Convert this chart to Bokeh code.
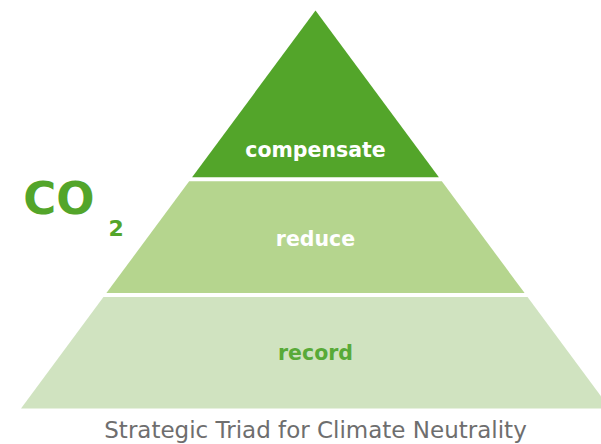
from bokeh.plotting import figure
from bokeh.models import Range1d, ColumnDataSource
from bokeh.core.properties import value
from bokeh.embed import file_html
from bokeh.resources import INLINE

# ---- data ----
tiers = ["record", "reduce", "compensate"]          # bottom -> top
tier_heights = [0.285, 0.291, 0.424]                # share of pyramid height
tier_colors = ["#d0e3c0", "#b5d58e", "#53a52a"]
label_colors = ["#58aa38", "#ffffff", "#ffffff"]
label_pos = [0.43, 0.42, 0.134]                     # baseline within tier (fraction from tier bottom)
molecule = "CO"
subscript = "2"
caption = "Strategic Triad for Climate Neutrality"

# ---- layout (pyramid units: base half-width 1, height 1; 398 px per unit) ----
PX = 1 / 398.0
GAP = 0.010
levels = [0.0]
for h in tier_heights:
    levels.append(levels[-1] + h)

def lift(size_px):
    # compensate renderer's baseline placement
    return 0.34 * size_px * PX

LABEL_SIZE = 20.5
xs, ys, lx, ly = [], [], [], []
n = len(tiers)
for i in range(n):
    b = levels[i] + (GAP / 2 if i > 0 else 0)
    t = levels[i + 1] - (GAP / 2 if i < n - 1 else 0)
    hb, ht = 1 - b, 1 - t
    xs.append([-hb, hb, ht, -ht])
    ys.append([b, b, t, t])
    lx.append(0.0)
    ly.append(levels[i] + label_pos[i] * tier_heights[i] + lift(LABEL_SIZE))

p = figure(width=601, height=444, output_backend="svg", toolbar_location=None,
           x_range=Range1d(-1.0696, 0.9711), y_range=Range1d(-0.0905, 1.0251),
           min_border=0)
p.axis.visible = False
p.xgrid.visible = False
p.ygrid.visible = False
p.outline_line_color = None
p.background_fill_color = "white"
p.border_fill_color = "white"

src = ColumnDataSource(dict(xs=xs, ys=ys, color=tier_colors, lx=lx, ly=ly,
                            label=tiers, lcolor=label_colors))
p.patches("xs", "ys", fill_color="color", line_color=None, source=src)
p.text("lx", "ly", text="label", text_color="lcolor", source=src,
       text_font=value("DejaVu Sans"), text_font_style="bold",
       text_font_size=f"{LABEL_SIZE}px", text_align="center", text_baseline="alphabetic")

# CO2 mark
p.text(x=[-0.9925], y=[0.49 + lift(45)], text=[molecule], text_color="#53a52a",
       text_font=value("DejaVu Sans"), text_font_style="bold",
       text_font_size="45px", text_align="left", text_baseline="alphabetic")
p.text(x=[-0.703], y=[0.4296 + 9.5 * PX], text=[subscript], text_color="#53a52a",
       text_font=value("DejaVu Sans"), text_font_style="bold",
       text_font_size="22px", text_align="left", text_baseline="alphabetic")

# caption
p.text(x=[0.0], y=[-0.0729 + lift(23)], text=[caption], text_color="#6e6e6e",
       text_font=value("DejaVu Sans"), text_font_size="23px",
       text_align="center", text_baseline="alphabetic")

open("out.html", "w").write(file_html(p, INLINE))
